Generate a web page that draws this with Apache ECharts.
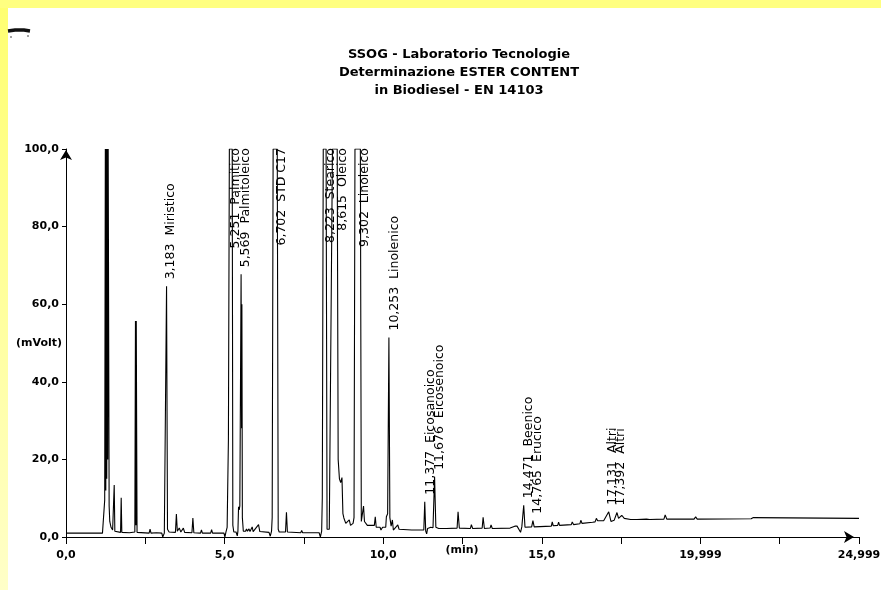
<!DOCTYPE html>
<html>
<head>
<meta charset="utf-8">
<script src="https://cdn.jsdelivr.net/npm/echarts@6/dist/echarts.min.js"></script>
<style>
html,body{margin:0;padding:0;background:#fff;}
#c{width:881px;height:590px;}
</style>
</head>
<body>
<div id="c"></div>
<script>
// Chromatogram trace: [time (min), signal (mV)]
const trace = [
  [0.00,1.0],[1.15,1.0],[1.20,1.4],[1.22,9.5],[1.24,100],[1.255,12],[1.27,100],[1.285,15],[1.30,100],[1.315,20],[1.33,100],[1.345,100],[1.36,8],[1.38,4.0],[1.42,2.5],[1.47,1.8],
  [1.50,1.6],[1.52,13.4],[1.54,1.5],[1.60,1.3],[1.72,1.2],[1.74,10.1],[1.76,1.2],
  [2.00,1.1],[2.17,1.3],[2.19,55.7],[2.205,3],[2.215,55.7],[2.24,1.2],
  [2.62,1.0],[2.65,2.0],[2.68,1.0],[2.85,1.1],[2.87,1.4],[2.90,1.0],
  [3.02,1.0],[3.05,0.0],[3.10,1.0],[3.15,1.5],[3.17,64.6],[3.20,2.0],[3.25,1.3],
  [3.45,1.2],[3.48,5.9],[3.51,1.5],[3.57,2.3],[3.62,1.3],[3.70,2.3],[3.74,1.2],
  [3.97,1.1],[4.00,4.9],[4.03,1.1],[4.24,1.0],[4.27,1.8],[4.30,1.0],[4.56,1.0],[4.59,1.9],[4.62,1.0],
  [4.98,1.0],[5.01,0.0],[5.04,1.2],[5.08,2.5],[5.12,25],[5.15,100],[5.24,100],[5.26,3.0],[5.29,1.3],
  [5.36,1.3],[5.40,0.3],[5.42,1.5],[5.44,7.8],[5.46,7.0],[5.48,8.0],[5.52,67.7],[5.535,28],[5.545,60],[5.56,5.0],[5.59,1.5],
  [5.66,1.5],[5.69,2.1],[5.72,1.5],[5.77,2.1],[5.80,1.4],[5.87,2.6],[5.90,1.4],[6.07,3.2],[6.11,1.4],
  [6.40,1.2],[6.44,0.2],[6.48,1.5],[6.50,5],[6.53,100],[6.66,100],[6.69,2.0],[6.72,1.3],[6.74,1.8],[6.77,1.3],
  [6.92,1.3],[6.95,6.4],[6.98,1.3],[7.40,1.1],[7.43,1.7],[7.46,1.1],[7.75,1.1],[7.78,1.5],[7.81,1.1],
  [7.98,1.1],[8.02,0.0],[8.06,1.5],[8.08,10],[8.11,100],[8.20,100],[8.23,2.0],[8.26,1.9],[8.30,2.0],
  [8.36,2.5],[8.40,100],[8.55,100],[8.58,20],[8.62,15],[8.66,14],[8.70,15.3],[8.73,6],[8.76,4.9],[8.82,3.5],
  [8.88,3.5],[8.93,4.4],[8.97,3.0],[9.05,3.5],[9.08,5],[9.11,100],[9.28,100],[9.31,4],[9.34,3.5],[9.38,8.0],[9.41,4.0],
  [9.50,3.0],[9.72,3.0],[9.75,5.2],[9.78,2.5],[9.90,2.5],[9.93,1.8],[9.98,2.5],
  [10.08,2.5],[10.10,5.2],[10.14,6.0],[10.18,51.4],[10.21,5.0],[10.25,2.8],[10.29,4.4],[10.32,1.8],[10.35,2.0],[10.46,3.1],[10.50,2.0],
  [10.90,1.8],[11.28,1.8],[11.31,9.1],[11.34,1.5],[11.37,0.8],[11.40,2.2],[11.50,2.5],
  [11.57,2.4],[11.62,15.5],[11.66,2.5],[11.75,2.2],[12.00,2.2],[12.33,2.3],[12.36,6.5],[12.40,2.3],
  [12.75,2.2],[12.78,3.2],[12.82,2.2],[13.12,2.3],[13.15,5.1],[13.19,2.2],[13.37,2.3],[13.40,3.1],[13.44,2.2],
  [14.00,2.3],[14.15,2.8],[14.18,3.2],[14.22,2.8],[14.28,3.0],[14.33,1.2],[14.37,2.6],[14.43,8.2],[14.47,2.5],
  [14.68,2.6],[14.72,4.2],[14.76,2.6],[15.30,2.8],[15.33,3.9],[15.36,2.9],[15.50,3.0],[15.53,3.8],[15.56,3.0],
  [15.93,3.2],[15.96,3.9],[16.00,3.2],[16.20,3.4],[16.23,4.3],[16.27,3.5],[16.60,3.8],[16.68,3.9],[16.72,4.8],[16.76,4.2],
  [16.95,4.2],[17.00,4.5],[17.11,6.5],[17.18,4.0],[17.28,4.3],[17.37,6.3],[17.42,4.8],[17.52,5.6],[17.60,4.8],
  [17.80,4.5],[18.00,4.5],[18.30,4.6],[18.35,4.8],[18.40,4.5],[18.85,4.6],[18.89,5.7],[18.94,4.6],
  [19.50,4.6],[19.80,4.6],[19.85,5.2],[19.90,4.6],[21.60,4.7],[21.67,5.0],[21.72,4.7],[25.00,4.8]
];

// Peak annotations
const peakNames = ['3,183  Miristico','5,251  Palmitico','5,569  Palmitoleico','6,702  STD C17','8,223  Stearico','8,615  Oleico','9,302  Linoleico','10,253  Linolenico','11,377  Eicosanoico','11,676  Eicosenoico','14,471  Beenico','14,765  Erucico','17,131  Altri','17,392  Altri'];
const peakTimes = [3.183,5.251,5.569,6.702,8.223,8.615,9.302,10.253,11.377,11.676,14.471,14.765,17.131,17.392];
const peakHeights = [64.6,100,67.7,100,100,100,100,51.4,9.1,15.5,8.2,4.2,6.5,6.3];

// Axis tick labels
const xTickValues = [0,5,10,15,20,25];
const xTickLabels = ['0,0','5,0','10,0','15,0','19,999','24,999'];
const yTickValues = [0,20,40,60,80,100];
const yTickLabels = ['0,0','20,0','40,0','60,0','80,0','100,0'];

const titleLines = ['SSOG - Laboratorio Tecnologie','Determinazione ESTER CONTENT','in Biodiesel - EN 14103'];
const xAxisTitle = '(min)';
const yAxisTitle = '(mVolt)';

const chart = echarts.init(document.getElementById('c'), null, {renderer:'canvas'});
const axisFont = {fontFamily:'DejaVu Sans', fontWeight:'bold', fontSize:11, color:'#000'};

chart.setOption({
  animation:false,
  backgroundColor:'#fff',
  title:{
    text: titleLines.join('\n'),
    left: 454, top: 41, textAlign:'center',
    textStyle:{fontFamily:'DejaVu Sans', fontWeight:'bold', fontSize:13, lineHeight:18, color:'#000'}
  },
  graphic:[
    {type:'rect', shape:{x:0,y:0,width:8,height:590}, style:{fill:new echarts.graphic.LinearGradient(0,0,0,1,[{offset:0,color:'#ffff70'},{offset:1,color:'#ffffc8'}])}, z:-1},
    {type:'rect', shape:{x:0,y:0,width:881,height:8}, style:{fill:'#ffff80'}, z:-1},
    {type:'polyline', shape:{points:[[8,31],[15,30],[24,30],[30,31]]}, style:{stroke:'#111', lineWidth:3.5, fill:null}},
    {type:'line', shape:{x1:10,y1:37,x2:12,y2:37}, style:{stroke:'#444', lineWidth:1}},
    {type:'line', shape:{x1:27,y1:36,x2:29,y2:36}, style:{stroke:'#444', lineWidth:1}},
    {type:'text', x:62, y:343, style:{text:yAxisTitle, font:'bold 11px "DejaVu Sans"', fill:'#000', align:'right', verticalAlign:'middle'}},
    {type:'text', x:462, y:550, style:{text:xAxisTitle, font:'bold 11px "DejaVu Sans"', fill:'#000', align:'center', verticalAlign:'middle'}}
  ],
  grid:{left:66, right:22, top:149, bottom:53, containLabel:false, outerBoundsMode:'none'},
  xAxis:{
    type:'value', min:0, max:25, interval:2.5,
    axisLine:{show:true, lineStyle:{color:'#000', width:1}, symbol:['none','arrow'], symbolSize:[9,10], symbolOffset:[0,-5]},
    axisTick:{show:true, length:7, lineStyle:{color:'#000'}},
    axisLabel:Object.assign({margin:13, interval:0, showMinLabel:true, showMaxLabel:true, hideOverlap:false,
      formatter:function(v){ const i = xTickValues.findIndex(function(x){return Math.abs(x-v)<1e-6;}); return i<0 ? '' : xTickLabels[i]; }}, axisFont),
    splitLine:{show:false}
  },
  yAxis:{
    type:'value', min:0, max:100, interval:20,
    axisLine:{show:true, lineStyle:{color:'#000', width:1}, symbol:['none','arrow'], symbolSize:[9,10], symbolOffset:[0,-1]},
    axisTick:{show:true, length:4, lineStyle:{color:'#000'}},
    axisLabel:Object.assign({margin:7,
      formatter:function(v){ const i = yTickValues.findIndex(function(x){return Math.abs(x-v)<1e-6;}); return i<0 ? '' : yTickLabels[i]; }}, axisFont),
    splitLine:{show:false}
  },
  series:[
    {
      type:'line', data:trace, showSymbol:false, symbol:'none', sampling:null,
      lineStyle:{color:'#000', width:1.1}, z:2, silent:true
    },
    {
      type:'custom', clip:false, silent:true, z:3,
      data: peakTimes.map(function(t,i){ return [t, peakHeights[i], i]; }),
      renderItem:function(params, api){
        const idx = api.value(2);
        const h = api.value(1);
        const clipped = h >= 100;
        const p = api.coord([api.value(0), clipped ? 100 : h]);
        return {
          type:'text', x:p[0]-3, y: clipped ? p[1]-1 : p[1]-7, rotation:Math.PI/2,
          style:{text:peakNames[idx], font:'12.5px "DejaVu Sans"', fill:'#000', align: clipped ? 'right' : 'left', verticalAlign:'top'}
        };
      }
    }
  ]
});
</script>
</body>
</html>
